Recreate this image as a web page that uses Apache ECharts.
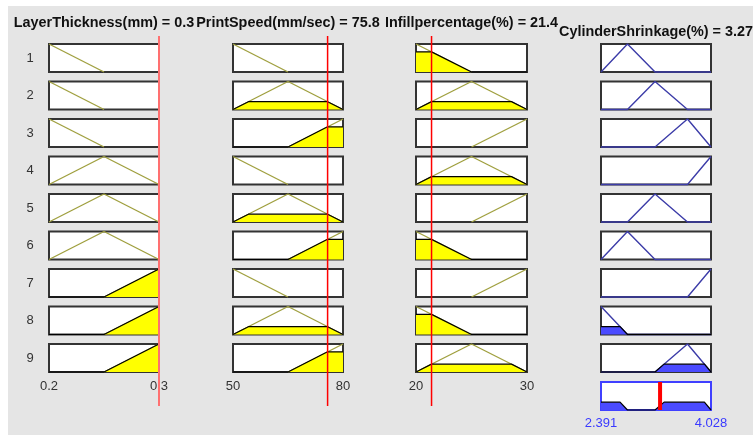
<!DOCTYPE html>
<html>
<head>
<meta charset="utf-8">
<script src="https://cdn.jsdelivr.net/npm/echarts@6/dist/echarts.min.js"></script>
<style>
  html, body { margin: 0; padding: 0; background: #fff; }
  #chart { width: 753px; height: 435px; }
</style>
</head>
<body>
<div id="chart"></div>
<script>
// Fuzzy inference rule view: three inputs, one output, nine rules.

// Variables, ranges and the evaluated crisp values
const varNames = ['LayerThickness(mm)', 'PrintSpeed(mm/sec)', 'Infillpercentage(%)', 'CylinderShrinkage(%)'];
const varRanges = [[0.2, 0.3], [50, 80], [20, 30], [2.391, 4.028]];
const varValues = [0.3, 75.8, 21.4, 3.27];
const valueText = ['0.3', '75.8', '21.4', '3.27'];
const tickLabels = [['0.2', '0.3'], ['50', '80'], ['20', '30'], ['2.391', '4.028']];
const ruleNumbers = ['1', '2', '3', '4', '5', '6', '7', '8', '9'];

// Triangular membership functions [a, b, c]
const layerMFs  = [[0.15, 0.2, 0.25], [0.2, 0.25, 0.3], [0.25, 0.3, 0.35]];
const speedMFs  = [[35, 50, 65], [50, 65, 80], [65, 80, 95]];
const infillMFs = [[15, 20, 25], [20, 25, 30], [25, 30, 35]];
const shrinkMFs = [[1.997, 2.391, 2.785], [2.391, 2.785, 3.195], [2.785, 3.195, 3.678],
                   [3.195, 3.678, 4.028], [3.678, 4.028, 4.378]];

// Rule base: MF index used by each rule for every variable
const ruleLayer  = [0, 0, 0, 1, 1, 1, 2, 2, 2];
const ruleSpeed  = [0, 1, 2, 0, 1, 2, 0, 1, 2];
const ruleInfill = [0, 1, 2, 1, 2, 0, 2, 0, 1];
const ruleShrink = [1, 2, 3, 4, 2, 1, 4, 0, 3];

// ---- layout ----
const colLeft = [49, 233, 416, 601];
const colWidth = [110, 110, 111, 110];
const rowTop0 = 44, rowStep = 37.5, boxH = 28;
const aggTop = 382;
const cursorTop = 36, cursorBottom = 406;

const inputColor = '#a0a040';
const outputColor = '#3c3ca8';
const yellow = '#ffff00';
const blueFill = '#4b4bff';
const tickBlue = '#3a3aff';
const textColor = '#333333';
const boxBorder = '#333333';
const font = 'Liberation Sans, Arial, sans-serif';

function trimf(x, p) {
  const [a, b, c] = p;
  const up = b === a ? (x >= a ? 1 : 0) : (x - a) / (b - a);
  const down = c === b ? (x <= c ? 1 : 0) : (c - x) / (c - b);
  return Math.max(0, Math.min(up, down));
}
function inRange(xs, r) {
  return Array.from(new Set(xs.filter(x => x >= r[0] && x <= r[1]).map(x => +x.toFixed(9)))).sort((u, v) => u - v);
}
// full MF polyline across the range
function mfLine(p, r) {
  return inRange([r[0], r[1], p[0], p[1], p[2]], r).map(x => [x, trimf(x, p)]);
}
// MF polyline over its support only
function mfSupport(p, r) {
  const lo = Math.max(r[0], p[0]), hi = Math.min(r[1], p[2]);
  return inRange([lo, hi, p[1]], [lo, hi]).map(x => [x, trimf(x, p)]);
}
function clipBreaks(p, d, r) {
  return inRange([r[0], r[1], p[0], p[1], p[2], p[0] + d * (p[1] - p[0]), p[2] - d * (p[2] - p[1])], r);
}
function clipped(p, d, r) {
  if (d <= 0) return null;
  return clipBreaks(p, d, r).map(x => [x, Math.min(trimf(x, p), d)]);
}

const inputMFs = [layerMFs, speedMFs, infillMFs];
const ruleIdx = [ruleLayer, ruleSpeed, ruleInfill];

const grids = [], xAxes = [], yAxes = [], series = [], graphics = [];
let gi = 0;

function addGrid(left, top, width, height, r, visible, borderColor, labels, labelMargin, labelColor) {
  grids.push({
    left: left, top: top, width: width, height: height,
    show: visible, backgroundColor: '#ffffff', borderColor: borderColor, borderWidth: 2,
    containLabel: false
  });
  xAxes.push({
    type: 'value', gridIndex: gi, min: r[0], max: r[1],
    axisLine: { show: false }, axisTick: { show: false }, splitLine: { show: false },
    axisLabel: labels ? {
      show: true, customValues: [r[0], r[1]], margin: labelMargin,
      color: labelColor, fontSize: 13, fontFamily: font,
      formatter: v => (Math.abs(v - r[0]) < 1e-9 ? labels[0] : labels[1])
    } : { show: false }
  });
  yAxes.push({
    type: 'value', gridIndex: gi, min: 0, max: 1, show: false
  });
  return gi++;
}

function addLine(g, data, color, width, fill, z) {
  series.push({
    type: 'line', xAxisIndex: g, yAxisIndex: g, data: data,
    showSymbol: false, symbol: 'none', clip: false, silent: true,
    lineStyle: { color: color, width: width },
    areaStyle: fill ? { color: fill, opacity: 1 } : undefined,
    z: z || 2
  });
}

// Degree of each input MF at the crisp inputs
const inputDegrees = inputMFs.map((mfs, v) => mfs.map(p => trimf(varValues[v], p)));
// Rule firing strength (AND = min)
const firing = ruleNumbers.map((_, i) =>
  Math.min(...ruleIdx.map((idx, v) => inputDegrees[v][idx[i]])));

ruleNumbers.forEach((num, i) => {
  const top = rowTop0 + i * rowStep;
  const last = i === ruleNumbers.length - 1;
  // inputs
  for (let v = 0; v < 3; v++) {
    const r = varRanges[v];
    const p = inputMFs[v][ruleIdx[v][i]];
    const g = addGrid(colLeft[v], top, colWidth[v], boxH, r, true, boxBorder,
      last ? tickLabels[v] : null, 8, textColor);
    addLine(g, mfSupport(p, r), inputColor, 1.4);
    const d = inputDegrees[v][ruleIdx[v][i]];
    const shape = clipped(p, d, r);
    if (shape) addLine(g, shape, '#000', 1.2, yellow, 3);
  }
  // output
  const r = varRanges[3];
  const p = shrinkMFs[ruleShrink[i]];
  const g = addGrid(colLeft[3], top, colWidth[3], boxH, r, true, boxBorder, null);
  addLine(g, mfLine(p, r), outputColor, 1.4);
  const shape = clipped(p, firing[i], r);
  if (shape) addLine(g, shape, '#000', 1.2, blueFill, 3);

  graphics.push({
    type: 'text', x: 30, y: top + boxH / 2,
    style: { text: num, fill: textColor, font: '13px ' + font, align: 'center', verticalAlign: 'middle' }
  });
});

// aggregated output
{
  const r = varRanges[3];
  const g = addGrid(colLeft[3], aggTop, colWidth[3], boxH, r, true, '#4040ff', tickLabels[3], 7, tickBlue);
  let xs = [r[0], r[1]];
  ruleNumbers.forEach((_, i) => {
    if (firing[i] > 0) xs = xs.concat(clipBreaks(shrinkMFs[ruleShrink[i]], firing[i], r));
  });
  xs = inRange(xs, r);
  const agg = xs.map(x => [x, Math.max(0, ...ruleNumbers.map((_, i) =>
    Math.min(trimf(x, shrinkMFs[ruleShrink[i]]), firing[i])))]);
  addLine(g, agg, '#000', 1.2, blueFill, 3);
  addLine(g, [[varValues[3], 0], [varValues[3], 1]], '#ff0000', 4, null, 6);
}

// input cursors spanning all rules
for (let v = 0; v < 3; v++) {
  const g = addGrid(colLeft[v], cursorTop, colWidth[v], cursorBottom - cursorTop, varRanges[v], false, 'transparent', null);
  addLine(g, [[varValues[v], 0], [varValues[v], 1]], v === 0 ? '#ff7070' : '#ff0000', v === 0 ? 2 : 1.5, null, 10);
}

// variable titles
varNames.forEach((name, v) => {
  graphics.push({
    type: 'text', x: colLeft[v] + colWidth[v] / 2, y: v === 3 ? 32 : 23,
    style: {
      text: name + ' = ' + valueText[v], fill: '#111', font: 'bold 14.4px ' + font,
      align: 'center', verticalAlign: 'middle'
    }
  });
});

// panel background
graphics.unshift({
  type: 'rect', left: 8, top: 6, z: -10,
  shape: { width: 753 - 8, height: 435 - 6 },
  style: { fill: '#e5e5e5' }
});

const chart = echarts.init(document.getElementById('chart'), null, { renderer: 'canvas' });
chart.setOption({
  animation: false,
  backgroundColor: '#ffffff',
  grid: grids,
  xAxis: xAxes,
  yAxis: yAxes,
  series: series,
  graphic: { elements: graphics }
});
</script>
</body>
</html>
